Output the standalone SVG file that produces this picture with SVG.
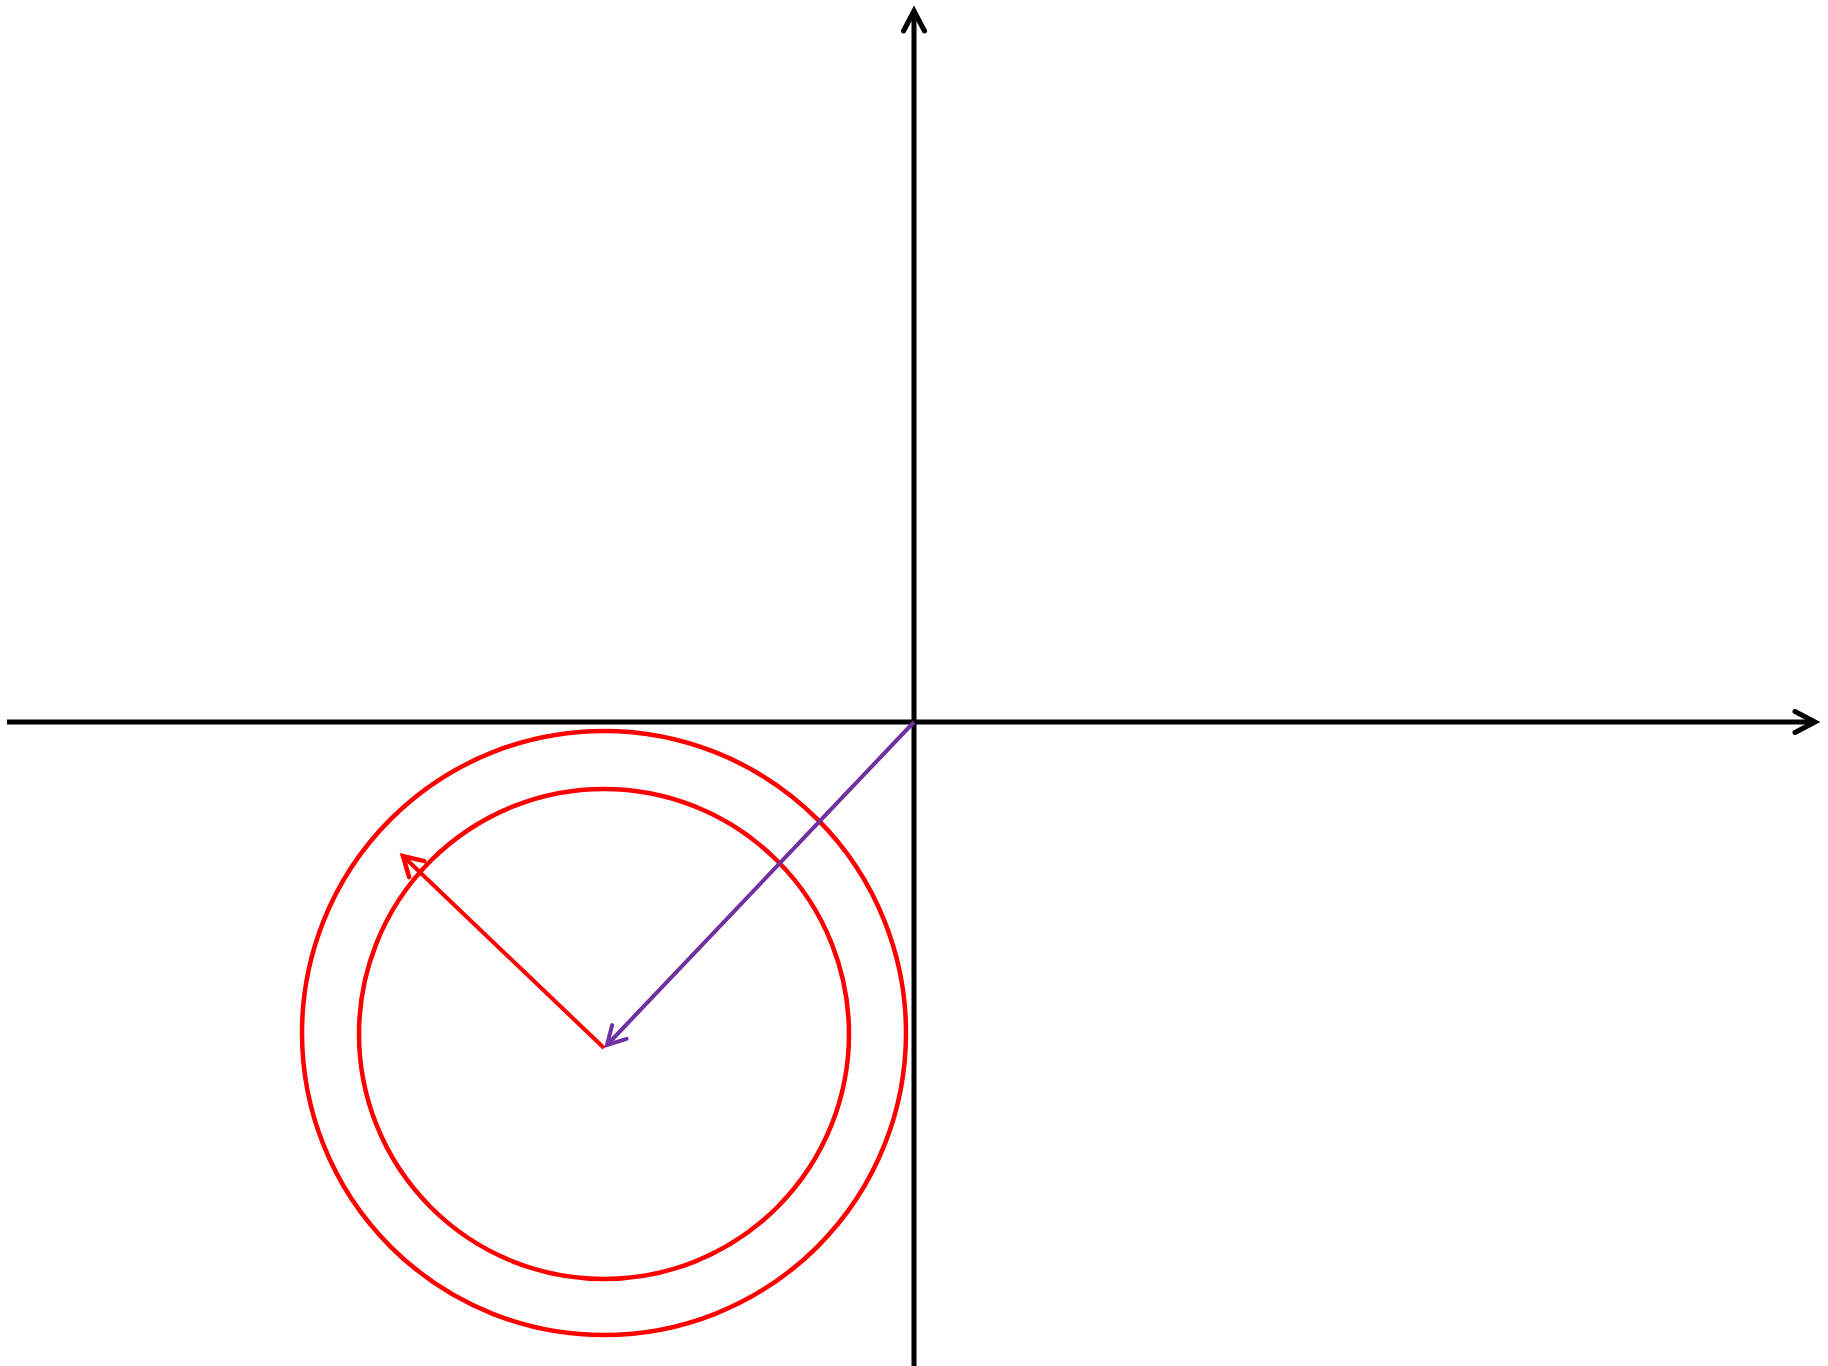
<svg xmlns="http://www.w3.org/2000/svg" width="1828" height="1366" viewBox="0 0 1828 1366">
<style>
.axis{stroke:#000;stroke-width:5;fill:none}
.ring{stroke:#ff0000;stroke-width:4.5;fill:none}
</style>
<defs>
<marker id="ah-black" markerUnits="userSpaceOnUse" viewBox="-26 -16 30 32" markerWidth="30" markerHeight="32" refX="0" refY="0" orient="auto" overflow="visible">
<path d="M-20,-10.5 L0,0 L-20,10.5" fill="none" stroke="#000" stroke-width="5" stroke-linecap="round" stroke-linejoin="miter"/>
</marker>
<marker id="ah-red" markerUnits="userSpaceOnUse" viewBox="-26 -16 30 32" markerWidth="30" markerHeight="32" refX="0" refY="0" orient="auto" overflow="visible">
<path d="M-19,-11 L0,0 L-19,11" fill="none" stroke="#ff0000" stroke-width="4.5" stroke-linecap="round" stroke-linejoin="miter"/>
</marker>
<marker id="ah-purple" markerUnits="userSpaceOnUse" viewBox="-26 -16 30 32" markerWidth="30" markerHeight="32" refX="0" refY="0" orient="auto" overflow="visible">
<path d="M-18,-10 L0,0 L-18,10" fill="none" stroke="#7030a0" stroke-width="4" stroke-linecap="round" stroke-linejoin="miter"/>
</marker>
</defs>
<g id="circle-outer"><circle class="ring" cx="604" cy="1033" r="302"/></g>
<g id="circle-inner"><circle class="ring" cx="604" cy="1034" r="245"/></g>
<g id="connectors">
<line id="x-axis" class="axis" x1="7" y1="722" x2="1815" y2="722" marker-end="url(#ah-black)"/>
<line id="y-axis" class="axis" x1="914" y1="1366" x2="914" y2="11" marker-end="url(#ah-black)"/>
<line id="red-arrow" x1="604" y1="1048" x2="403" y2="856" stroke="#ff0000" stroke-width="4" marker-end="url(#ah-red)"/>
<line id="purple-arrow" x1="914" y1="722" x2="607" y2="1045" stroke="#7030a0" stroke-width="4" marker-end="url(#ah-purple)"/>
</g>
</svg>
